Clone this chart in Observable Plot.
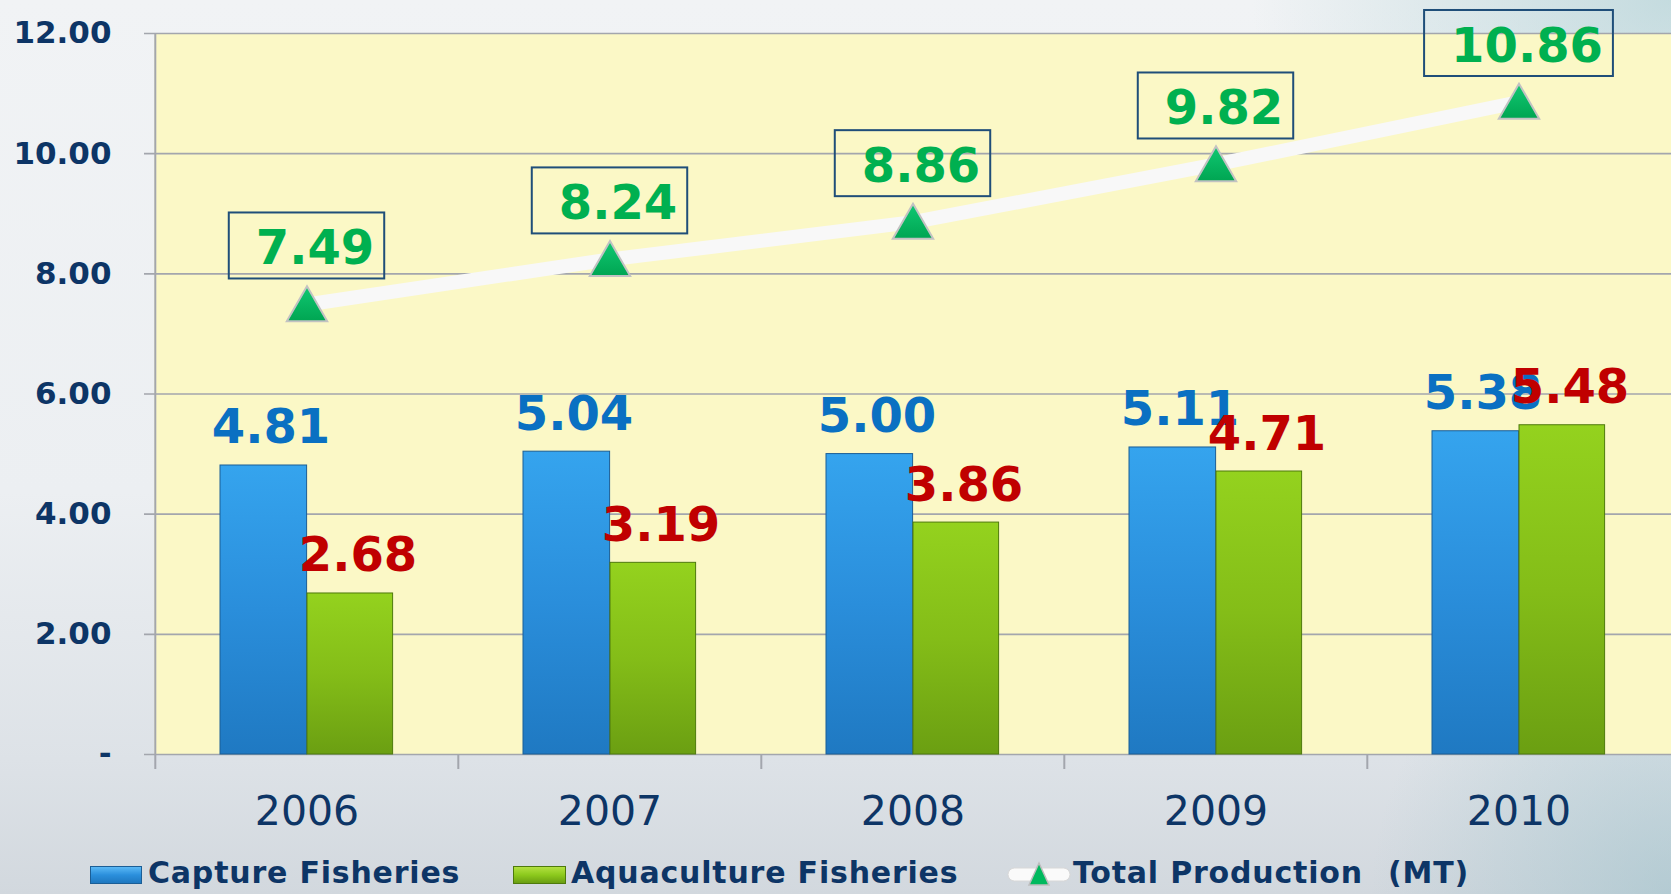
<!DOCTYPE html>
<html>
<head>
<meta charset="utf-8">
<script src="https://cdn.jsdelivr.net/npm/d3@7"></script>
<script src="https://cdn.jsdelivr.net/npm/@observablehq/plot@0.6"></script>
<style>
  html, body { margin: 0; padding: 0; width: 1671px; height: 894px; overflow: hidden; }
  body {
    font-family: "DejaVu Sans", Verdana, sans-serif;
    background:
      radial-gradient(ellipse 420px 260px at 100% 0%, rgba(160,200,205,0.55), rgba(160,200,205,0) 100%),
      radial-gradient(ellipse 300px 300px at 100% 100%, rgba(150,190,200,0.5), rgba(150,190,200,0) 100%),
      linear-gradient(to bottom, #f1f3f5 0%, #eceff2 55%, #dde2e7 85%, #d2d8de 100%);
  }
  #chart svg { display: block; }
  #legend { position: relative; height: 44px; font-weight: bold; font-size: 30px; color: #0d3566; letter-spacing: 0.8px; }
  #legend .item { position: absolute; top: 1px; line-height: 44px; white-space: pre; }
  #legend .sw { position: absolute; }
</style>
</head>
<body>
<div id="chart"></div>
<div id="legend">
  <div class="sw" style="left:90px;top:16px;width:52px;height:18px;background:linear-gradient(#5ab8f5,#2b8fdc 50%,#1f78c0);border:1px solid #1b5e96;box-sizing:border-box;"></div>
  <div class="item" style="left:148px;">Capture Fisheries</div>
  <div class="sw" style="left:513px;top:16px;width:53px;height:18px;background:linear-gradient(#b2e040,#8cc91c 50%,#6a9e12);border:1px solid #4e7a0c;box-sizing:border-box;"></div>
  <div class="item" style="left:571px;">Aquaculture Fisheries</div>
  <svg class="sw" style="left:1007px;top:11px;" width="64" height="26" viewBox="0 0 64 26">
    <rect x="1" y="7" width="62" height="13" rx="6.5" fill="#fafafa" stroke="#d8d8d8"/>
    <path d="M32 2 L42 24 L22 24 Z" fill="#00b95e" stroke="#bdbdbd" stroke-width="1.5"/>
  </svg>
  <div class="item" style="left:1073px;">Total Production <span style="margin-left:14px;">(MT)</span></div>
</div>
<script>
const years = ["2006", "2007", "2008", "2009", "2010"];
const capture = [4.81, 5.04, 5.00, 5.11, 5.38];
const aquaculture = [2.68, 3.19, 3.86, 4.71, 5.48];
const total = [7.49, 8.24, 8.86, 9.82, 10.86];
const yTicks = [0, 2, 4, 6, 8, 10, 12];
const yTickLabels = ["-", "2.00", "4.00", "6.00", "8.00", "10.00", "12.00"];

const rows = years.map((year, i) => ({year, capture: capture[i], aqua: aquaculture[i], total: total[i]}));

const W = 1671, H = 850, ML = 154, MR = 0, MT = 33, MB = 96;
const bw = (W - ML - MR) / years.length;
const navy = "#0d3566";
const axisGray = "#a3a6ad";
const totalGreen = "#00b050";

const plot = Plot.plot({
  width: W, height: H,
  marginTop: MT, marginBottom: MB, marginLeft: ML, marginRight: MR,
  style: {background: "transparent", fontFamily: "DejaVu Sans, Verdana, sans-serif", overflow: "visible"},
  x: {type: "band", domain: years, padding: 0, axis: null},
  y: {domain: [0, 12], axis: null},
  marks: [
    Plot.frame({fill: "#fbf8c6", stroke: "none"}),
    Plot.ruleY(yTicks, {y: d => d, stroke: axisGray, strokeWidth: 1.6, insetLeft: -10}),
    Plot.ruleX([years[0]], {x: d => d, dx: -bw / 2, y1: 12, y2: -0.25, stroke: axisGray, strokeWidth: 2}),
    Plot.ruleX(years.slice(1), {x: d => d, dx: -bw / 2, y1: 0, y2: -0.25, stroke: axisGray, strokeWidth: 2}),
    Plot.barY(rows, {x: "year", y: "capture", fill: "url(#gradBlue)", stroke: "#1b5e96", strokeWidth: 1, insetLeft: 65, insetRight: bw - 65 - 87}),
    Plot.barY(rows, {x: "year", y: "aqua", fill: "url(#gradGreen)", stroke: "#4e7a0c", strokeWidth: 1, insetLeft: 152, insetRight: bw - 152 - 86}),
    Plot.line(rows, {x: "year", y: "total", stroke: "#f8f8f8", strokeWidth: 14, strokeLinecap: "butt"}),
    Plot.dot(rows, {x: "year", y: "total", symbol: "triangle", r: 15, dy: 5, fill: "url(#gradTri)", stroke: "#c2c2c2", strokeWidth: 2}),
    Plot.text(rows, {x: "year", y: "capture", text: d => d.capture.toFixed(2), dx: -36, dy: -22, lineAnchor: "bottom", fontSize: 48, fontWeight: "bold", fill: "#0a70c2"}),
    Plot.text(rows, {x: "year", y: "aqua", text: d => d.aqua.toFixed(2), dx: 51, dy: -22, lineAnchor: "bottom", fontSize: 48, fontWeight: "bold", fill: "#c00000"}),
    Plot.text(rows, {x: "year", y: "total", text: d => d.total.toFixed(2), dx: 8, dy: -40, lineAnchor: "bottom", fontSize: 48, fontWeight: "bold", fill: totalGreen}),
    Plot.text(yTicks, {y: d => d, text: (d, i) => yTickLabels[i], frameAnchor: "left", textAnchor: "end", dx: -43, fontSize: 31, fontWeight: "bold", fill: navy}),
    Plot.text(years, {x: d => d, text: d => d, frameAnchor: "bottom", lineAnchor: "bottom", dy: 70, fontSize: 41, fill: navy})
  ]
});

document.getElementById("chart").appendChild(plot);

const ns = "http://www.w3.org/2000/svg";
const defs = document.createElementNS(ns, "defs");
defs.innerHTML = `
  <linearGradient id="gradBlue" x1="0" y1="0" x2="0" y2="1">
    <stop offset="0" stop-color="#35a4ee"/>
    <stop offset="0.5" stop-color="#2a8edb"/>
    <stop offset="1" stop-color="#1f79c2"/>
  </linearGradient>
  <linearGradient id="gradGreen" x1="0" y1="0" x2="0" y2="1">
    <stop offset="0" stop-color="#94d21e"/>
    <stop offset="0.5" stop-color="#84bd18"/>
    <stop offset="1" stop-color="#6b9f12"/>
  </linearGradient>
  <linearGradient id="gradTri" x1="0" y1="0" x2="0" y2="1">
    <stop offset="0" stop-color="#10c872"/>
    <stop offset="1" stop-color="#00a552"/>
  </linearGradient>`;
plot.insertBefore(defs, plot.firstChild);

// Draw the boxes around the total-production labels (sized from each rendered label)
const totalTexts = Array.from(plot.querySelectorAll("text")).filter(t => {
  const g = t.closest("g");
  return (t.getAttribute("fill") || (g && g.getAttribute("fill"))) === totalGreen;
});
totalTexts.forEach(t => {
  const b = t.getBBox();
  const r = document.createElementNS(ns, "rect");
  r.setAttribute("x", b.x - 27);
  r.setAttribute("y", b.y - 7);
  r.setAttribute("width", b.width + 37);
  r.setAttribute("height", b.height + 10);
  r.setAttribute("fill", "none");
  r.setAttribute("stroke", "#1f4e79");
  r.setAttribute("stroke-width", "2");
  const tr = t.getAttribute("transform");
  if (tr) r.setAttribute("transform", tr);
  t.parentNode.insertBefore(r, t);
});
</script>
</body>
</html>
